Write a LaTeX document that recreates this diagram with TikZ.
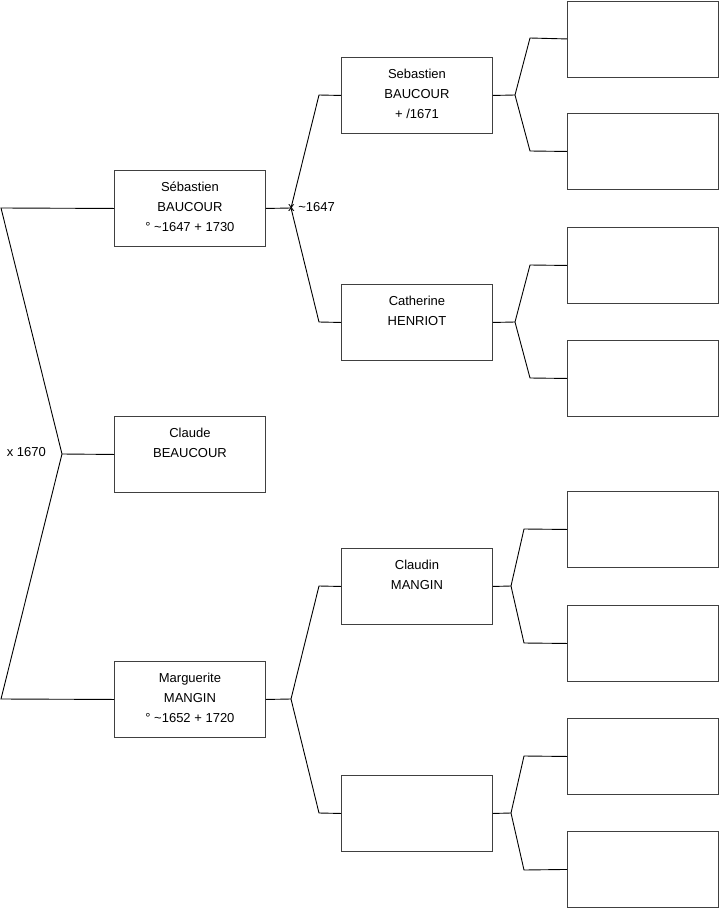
\documentclass[tikz,border=0pt]{standalone}
\usepackage{fontspec}
\setmainfont{Liberation Sans}
\usetikzlibrary{positioning}
\newcommand{\ident}[1]{\parbox[t][76pt][t]{151pt}{\centering\rule{0pt}{21.5pt}#1}}
\tikzset{
  person/.style={draw=black!75, line width=0.9pt, inner sep=0pt, anchor=north west, font=\fontsize{13}{20}\selectfont},
  link/.style={draw=black, line width=0.9pt},
  wedding/.style={inner sep=0pt, font=\fontsize{13}{15}\selectfont}
}
\begin{document}
\begin{tikzpicture}[x=1pt, y=-1pt]
  \useasboundingbox (0,0) rectangle (719,908);

  % generation 1
  \node[person] (s1) at (114,416) {\ident{Claude\\BEAUCOUR}};
  \node[person] (s2) at (114,170) {\ident{Sébastien\\BAUCOUR\\° \textasciitilde1647 + 1730}};
  \node[person] (s3) at (114,661) {\ident{Marguerite\\MANGIN\\° \textasciitilde1652 + 1720}};
  % generation 2
  \node[person] (s4) at (341,57) {\ident{Sebastien\\BAUCOUR\\+ /1671}};
  \node[person] (s5) at (341,284) {\ident{Catherine\\HENRIOT}};
  \node[person] (s6) at (341,548) {\ident{Claudin\\MANGIN}};
  \node[person] (s7) at (341,775) {\ident{}};
  % generation 3
  \node[person] (s8) at (567,0.5) {\ident{}};
  \node[person] (s9) at (567,113) {\ident{}};
  \node[person] (s10) at (567,227) {\ident{}};
  \node[person] (s11) at (567,340) {\ident{}};
  \node[person] (s12) at (567,491) {\ident{}};
  \node[person] (s13) at (567,605) {\ident{}};
  \node[person] (s14) at (567,718) {\ident{}};
  \node[person] (s15) at (567,831) {\ident{}};

  % forks
  \coordinate (f1) at (62,454);
  \coordinate (a2) at (1,208);
  \coordinate (a3) at (1,699);
  \coordinate (f2) at (291,208);
  \coordinate (a4) at (319,95);
  \coordinate (a5) at (319,322);
  \coordinate (f3) at (291,699);
  \coordinate (a6) at (319,586);
  \coordinate (a7) at (319,813);
  \coordinate (f4) at (515,95);
  \coordinate (a8) at (530,38);
  \coordinate (a9) at (530,151);
  \coordinate (f5) at (515,322);
  \coordinate (a10) at (530,265);
  \coordinate (a11) at (530,378);
  \coordinate (f6) at (511,586);
  \coordinate (a12) at (524,529);
  \coordinate (a13) at (524,643);
  \coordinate (f7) at (511,813);
  \coordinate (a14) at (524,756);
  \coordinate (a15) at (524,870);

  \draw[link] (s1.west) -- (f1);
  \draw[link] (s2.west) -- (a2) -- (f1) -- (a3) -- (s3.west);
  \draw[link] (s2.east) -- (f2);
  \draw[link] (s4.west) -- (a4) -- (f2) -- (a5) -- (s5.west);
  \draw[link] (s3.east) -- (f3);
  \draw[link] (s6.west) -- (a6) -- (f3) -- (a7) -- (s7.west);
  \draw[link] (s4.east) -- (f4);
  \draw[link] (s8.west) -- (a8) -- (f4) -- (a9) -- (s9.west);
  \draw[link] (s5.east) -- (f5);
  \draw[link] (s10.west) -- (a10) -- (f5) -- (a11) -- (s11.west);
  \draw[link] (s6.east) -- (f6);
  \draw[link] (s12.west) -- (a12) -- (f6) -- (a13) -- (s13.west);
  \draw[link] (s7.east) -- (f7);
  \draw[link] (s14.west) -- (a14) -- (f7) -- (a15) -- (s15.west);

  % marriages
  \node[wedding, anchor=east] (m1) at ([xshift=-16pt, yshift=2pt]f1) {x 1670};
  \node[wedding, anchor=west] (m2) at ([xshift=-3pt, yshift=1pt]f2) {x \textasciitilde1647};
\end{tikzpicture}
\end{document}
